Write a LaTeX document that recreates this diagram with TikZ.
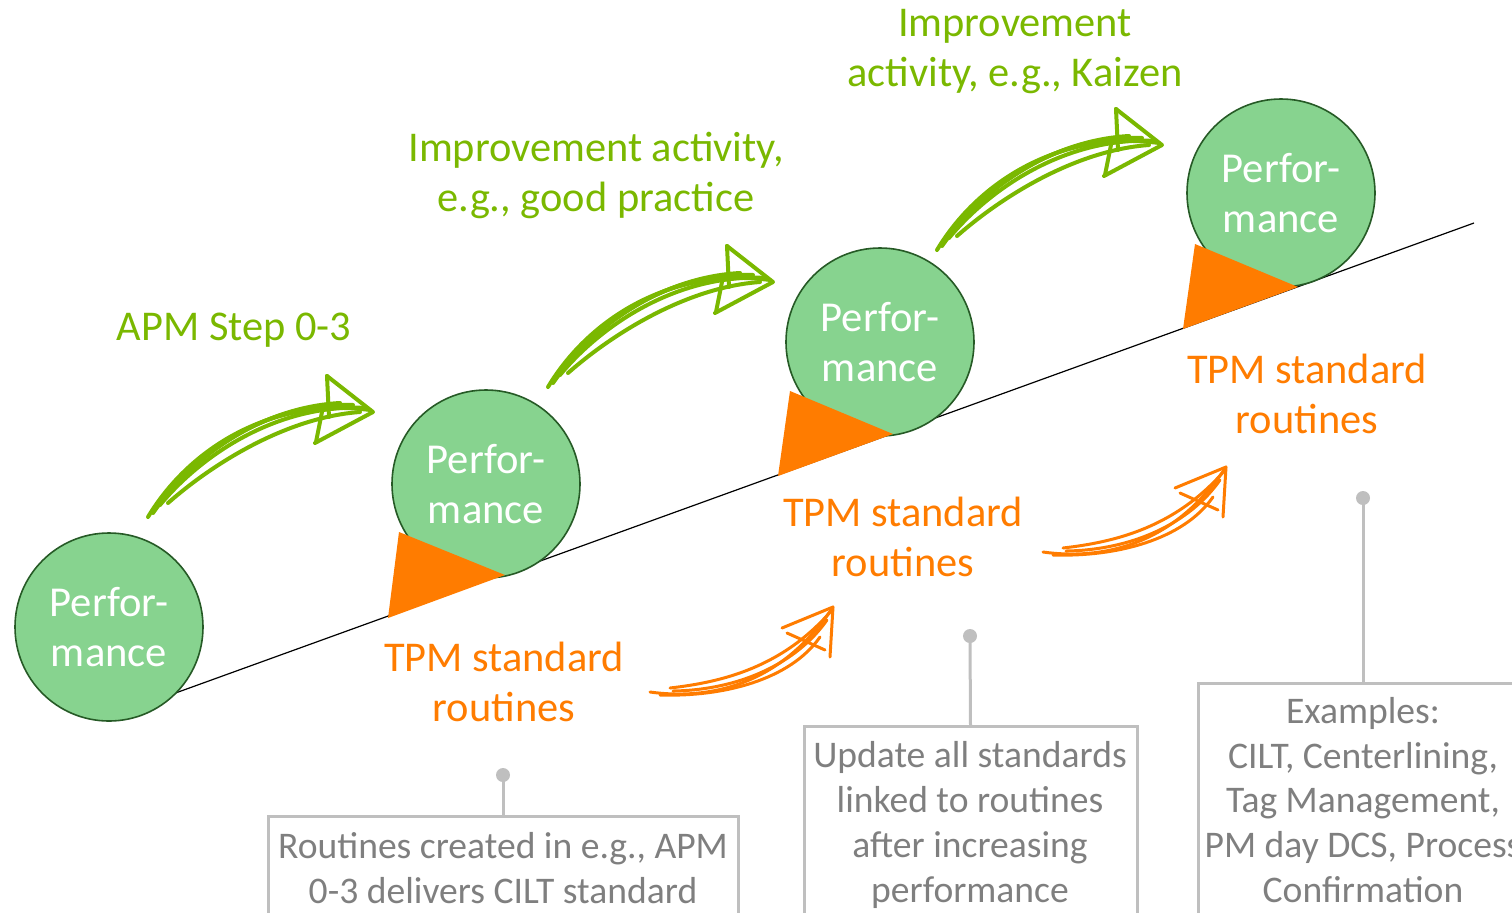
\documentclass[tikz,border=0pt]{standalone}
\usepackage{fontspec}
\setmainfont{Carlito}
\definecolor{cfill}{RGB}{135,211,143}
\definecolor{cline}{RGB}{38,90,38}
\definecolor{lime}{RGB}{122,184,0}
\definecolor{orng}{RGB}{255,124,0}
\definecolor{gtext}{RGB}{127,127,127}
\definecolor{gline}{RGB}{191,191,191}
\newcommand{\greenarrow}[2]{%
\begin{scope}[shift={(#1,#2)},draw=lime,line width=2pt,line cap=round,line join=round]
 \draw (0,0) .. controls (42,-70) and (125,-120) .. (222,-107);
 \draw (12,-12) .. controls (55,-64) and (132,-114) .. (219,-109);
 \draw (20,-14) .. controls (69,-57) and (142,-100) .. (212,-105);
 \draw (5,-4) .. controls (49,-67) and (119,-110) .. (192,-114);
 \draw (8,-10) .. controls (50,-70) and (128,-116) .. (205,-112);
 \draw (179,-141) -- (225,-105) -- (167,-74);
 \draw (179,-141) -- (181,-100);
 \draw (175,-110) -- (168,-75);
\end{scope}}
\newcommand{\orangearrow}[2]{%
\begin{scope}[shift={(#1,#2)},draw=orng,line width=1.5pt,line cap=round,line join=round]
 \draw (0,0) .. controls (57,8) and (130,-5) .. (183,-85);
 \draw (20,-4) .. controls (73,-10) and (133,-25) .. (182,-82);
 \draw (23,-1) .. controls (90,-2) and (147,-29) .. (177,-72);
 \draw (10,3) .. controls (73,5) and (140,-12) .. (170,-55);
 \draw (132,-64) -- (183,-85) -- (180,-35);
 \draw (137,-59) -- (175,-42);
\end{scope}}
\begin{document}
\begin{tikzpicture}[x=0.5pt,y=-0.5pt,
  perf/.style={circle,draw=cline,line width=0.8pt,fill=cfill,minimum size=94pt,inner sep=0pt,
    text=white,align=center,font=\fontsize{21.3}{25}\selectfont},
  glabel/.style={text=lime,align=center,font=\fontsize{21.2}{25}\selectfont,inner sep=0pt},
  olabel/.style={text=orng,align=center,font=\fontsize{21.2}{25}\selectfont,inner sep=0pt},
  gbox/.style={draw=gline,line width=1.5pt,rectangle,anchor=north,inner sep=0pt},
  gtxt/.style={text=gtext,align=center,font=\fontsize{18.8}{22.4}\selectfont,inner sep=0pt},
  gdot/.style={circle,fill=gline,inner sep=0pt,minimum size=7pt},
  glink/.style={draw=gline,line width=1.5pt}]
\clip (0,0) rectangle (1512,912);
\useasboundingbox (0,0) rectangle (1512,912);
% baseline slope
\coordinate (L0) at (170,695);
\coordinate (L1) at (1474,223);
\draw[line width=0.6pt] (L0) -- (L1);
% circles
\node[perf] (c1) at (109,627) {Perfor-\\mance};
\node[perf] (c2) at (486,484) {Perfor-\\mance};
\node[perf] (c3) at (880,342) {Perfor-\\mance};
\node[perf] (c4) at (1281,193) {Perfor-\\mance};
% triangles
\fill[orng] (388,618) -- (399,532) -- (505,575) -- cycle;
\fill[orng] (778,476) -- (790,391) -- (893,434) -- cycle;
\fill[orng] (1183,329) -- (1195,244) -- (1298,287) -- cycle;
% green labels
\node[glabel] (g1) at (234,330) {APM Step 0-3};
\node[glabel] (g2) at (596,175) {Improvement activity,\\e.g., good practice};
\node[glabel] (g3) at (1015,52) {Improvement\\activity, e.g., Kaizen};
% orange labels
\node[olabel] (o1) at (504,682) {TPM standard\\routines};
\node[olabel] (o2) at (903,537) {TPM standard\\routines};
\node[olabel] (o3) at (1307,394) {TPM standard\\routines};
% arrows
\greenarrow{148}{517}
\greenarrow{548}{387}
\greenarrow{937}{250}
\orangearrow{650}{692}
\orangearrow{1043}{552}
% callouts
\node[gdot] (d1) at (503,775) {};
\node[gdot] (d2) at (970,636) {};
\node[gdot] (d3) at (1363,498) {};
\node[gbox,minimum width=235pt,minimum height=80pt] (b1) at (503,815) {};
\node[gbox,minimum width=166.5pt,minimum height=120pt] (b2) at (970.5,725) {};
\node[gbox,minimum width=165pt,minimum height=140pt] (b3) at (1363,682) {};
\draw[glink] (d1.center) -- (b1.north);
\draw[glink] (d2.center) -- (b2.north);
\draw[glink] (d3.center) -- (b3.north);
\node[gtxt] (t1) at (503,868) {Routines created in e.g., APM\\0-3 delivers CILT standard};
\node[gtxt] (t2) at (970,825) {Update all standards\\linked to routines\\after increasing\\performance};
\node[gtxt] (t3) at (1363,800) {Examples:\\CILT, Centerlining,\\Tag Management,\\PM day DCS, Process\\Confirmation};
\end{tikzpicture}
\end{document}
